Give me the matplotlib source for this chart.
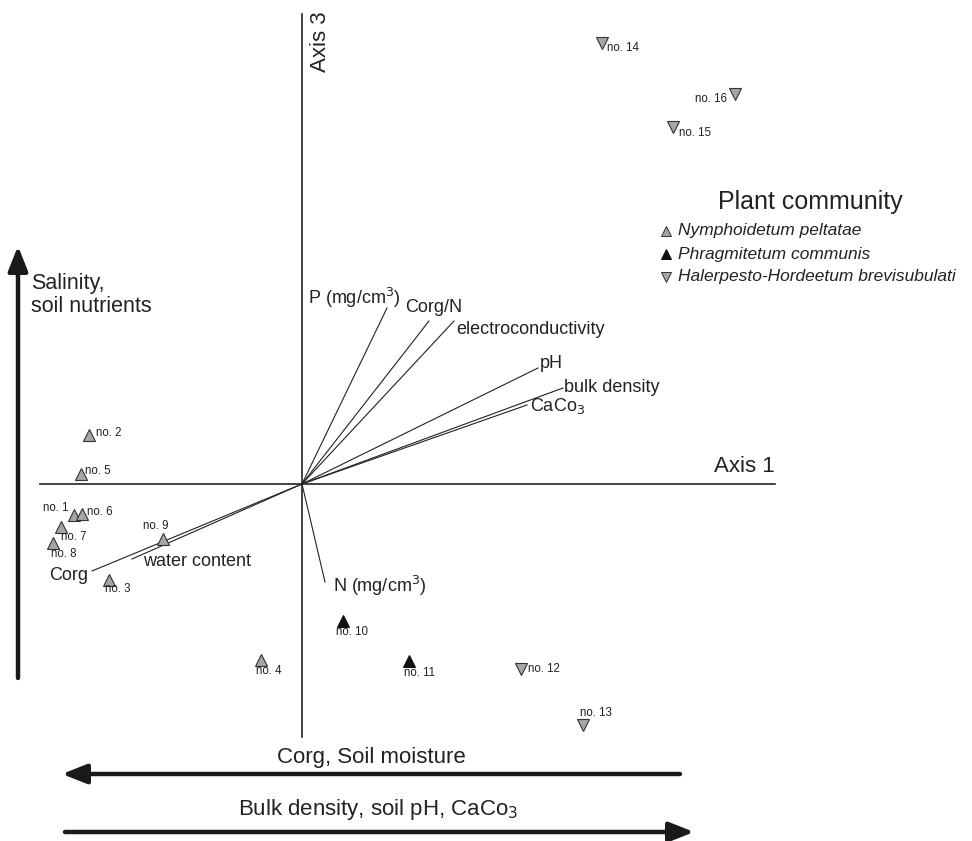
import matplotlib
matplotlib.use("Agg")
import matplotlib.pyplot as plt

plt.rcParams['font.family'] = ['Liberation Sans', 'DejaVu Sans']

# ---------------- data (ordination scores, axis 1 / axis 3) ----------------
site_names = ["no. 1", "no. 2", "no. 3", "no. 4", "no. 5", "no. 6", "no. 7", "no. 8",
              "no. 9", "no. 10", "no. 11", "no. 12", "no. 13", "no. 14", "no. 15", "no. 16"]
site_ax1 = [-2.28, -2.13, -1.93, -0.41, -2.21, -2.20, -2.41, -2.49,
            -1.39, 0.41, 1.07, 2.19, 2.81, 3.00, 3.71, 4.33]
site_ax3 = [-0.31, 0.49, -0.96, -1.76, 0.10, -0.30, -0.43, -0.59,
            -0.55, -1.37, -1.77, -1.85, -2.41, 4.41, 3.57, 3.90]
site_group = [0, 0, 0, 0, 0, 0, 0, 0, 0, 1, 1, 2, 2, 2, 2, 2]
groups = ["Nymphoidetum peltatae", "Phragmitetum communis",
          "Halerpesto-Hordeetum brevisubulati"]

env_names = ["P (mg/cm$^3$)", "Corg/N", "electroconductivity", "pH", "bulk density",
             "CaCo$_3$", "N (mg/cm$^3$)", "water content", "Corg"]
env_ax1 = [0.85, 1.27, 1.52, 2.36, 2.61, 2.25, 0.23, -1.70, -2.10]
env_ax3 = [1.76, 1.63, 1.63, 1.16, 0.96, 0.79, -0.98, -0.75, -0.87]

# ---------------- styling ----------------
group_marker = ['^', '^', 'v']
group_face = ['#a6a6a6', '#111111', '#a6a6a6']
group_edge = ['#333333', '#111111', '#333333']

# label offsets in pixels (dx, dy up), horizontal alignment
site_off = {
    "no. 1": (-6, 7, 'right'), "no. 2": (7, 2, 'left'), "no. 3": (-4, -9, 'left'),
    "no. 4": (-5, -11, 'left'), "no. 5": (4, 3, 'left'), "no. 6": (5, 2, 'left'),
    "no. 7": (0, -10, 'left'), "no. 8": (-2, -11, 'left'), "no. 9": (-20, 13, 'left'),
    "no. 10": (-7, -11, 'left'), "no. 11": (-5, -12, 'left'), "no. 12": (7, 0, 'left'),
    "no. 13": (-3, 12, 'left'), "no. 14": (5, -5, 'left'), "no. 15": (6, -6, 'left'),
    "no. 16": (-8, -5, 'right'),
}
env_off = [(-79, 10, 'left'), (-24, 13, 'left'), (2, -8, 'left'), (2, 4, 'left'),
           (1, 0, 'left'), (3, -1, 'left'), (8, -4, 'left'), (11, -3, 'left'),
           (-4, -4, 'right')]

W, H = 972, 841
fig = plt.figure(figsize=(W / 100, H / 100), dpi=100)
ax = fig.add_axes([0, 0, 1, 1])
ox, oy, sc = 302, 484, 100.0
ax.set_xlim(-ox / sc, (W - ox) / sc)
ax.set_ylim((oy - H) / sc, oy / sc)
ax.axis('off')

def px2pt(v):
    return v * 0.72

lc = '#222222'
# ordination axes
ax.plot([-2.62, 4.73], [0, 0], color=lc, lw=1.2)
ax.plot([0, 0], [-2.53, 4.70], color=lc, lw=1.2)
ax.text(4.73, 0.17, "Axis 1", ha='right', va='center', fontsize=16, color=lc)
ax.text(0.19, 4.42, "Axis 3", ha='center', va='center', rotation=90, fontsize=16, color=lc)

# environmental vectors
for name, x, y, (dx, dy, ha) in zip(env_names, env_ax1, env_ax3, env_off):
    ax.plot([0, x], [0, y], color=lc, lw=0.8)
    ax.annotate(name, (x, y), xytext=(px2pt(dx), px2pt(dy)), textcoords='offset points',
                ha=ha, va='center', fontsize=13, color=lc)

# sites
for g in range(3):
    xs = [x for x, gg in zip(site_ax1, site_group) if gg == g]
    ys = [y for y, gg in zip(site_ax3, site_group) if gg == g]
    ax.plot(xs, ys, ls='none', marker=group_marker[g], ms=8.5,
            mfc=group_face[g], mec=group_edge[g], mew=0.8)
for name, x, y in zip(site_names, site_ax1, site_ax3):
    dx, dy, ha = site_off[name]
    ax.annotate(name, (x, y), xytext=(px2pt(dx), px2pt(dy)), textcoords='offset points',
                ha=ha, va='center', fontsize=8.3, color=lc)

# legend (drawn in pixel positions)
def P(px, py):
    return ((px - ox) / sc, (oy - py) / sc)

ax.text(*P(810, 202), "Plant community", ha='center', va='center', fontsize=18, color=lc)
for i, (g, yy) in enumerate(zip(groups, [231, 254, 277])):
    ax.plot(*P(666, yy), ls='none', marker=group_marker[i], ms=6.5,
            mfc=group_face[i], mec=group_edge[i], mew=0.7)
    ax.text(*P(678, yy), g, ha='left', va='center', fontsize=12.5, style='italic', color=lc,
            clip_on=False)

# gradient arrows
arrow_kw = dict(arrowstyle='-|>,head_length=0.68,head_width=0.27', lw=3.2,
                color='#1a1a1a', shrinkA=0, shrinkB=0, mutation_scale=22)
ax.annotate('', xy=P(18, 246), xytext=P(18, 678), arrowprops=arrow_kw)
ax.text(*P(31, 295), "Salinity,\nsoil nutrients", ha='left', va='center', fontsize=15.5,
        color=lc, linespacing=1.15)
ax.annotate('', xy=P(62, 774), xytext=P(680, 774), arrowprops=arrow_kw)
ax.text(*P(371, 758), "Corg, Soil moisture", ha='center', va='center', fontsize=16, color=lc)
ax.annotate('', xy=P(694, 832), xytext=P(65, 832), arrowprops=arrow_kw)
ax.text(*P(378, 809), "Bulk density, soil pH, CaCo$_3$", ha='center', va='center',
        fontsize=16, color=lc)

fig.savefig("out.png", dpi=100)
